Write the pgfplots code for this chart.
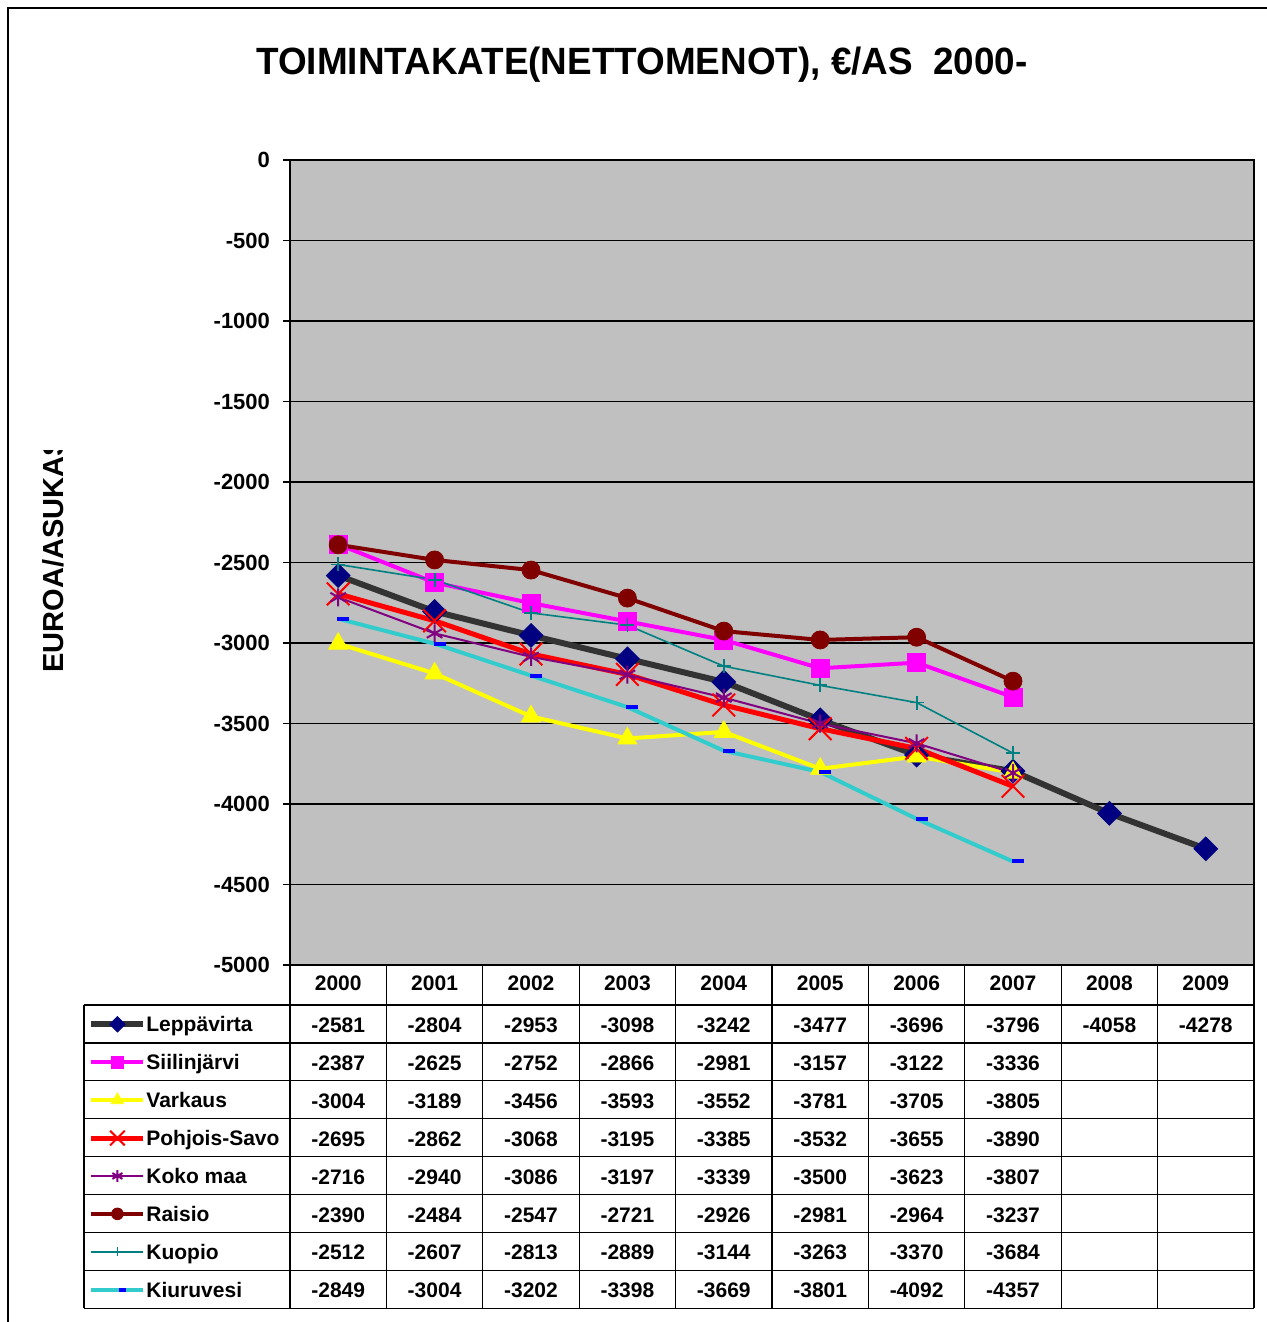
\documentclass[border=0pt]{standalone}
\usepackage{pgfplots}
\pgfplotsset{compat=1.18}
\usepackage{pgfplotstable}
\usepackage{fontspec}
\setmainfont{Liberation Sans}

\definecolor{cBg}{HTML}{C0C0C0}
\definecolor{cLepp}{HTML}{333333}
\definecolor{cNavy}{HTML}{000080}
\definecolor{cSiil}{HTML}{FF00FF}
\definecolor{cVark}{HTML}{FFFF00}
\definecolor{cPS}{HTML}{FF0000}
\definecolor{cKoko}{HTML}{800080}
\definecolor{cRais}{HTML}{800000}
\definecolor{cKuop}{HTML}{008080}
\definecolor{cKiur}{HTML}{33CCCC}
\definecolor{cBlue}{HTML}{0000FF}

\pgfplotstableread{
year Lepp Siil Vark PS Koko Raisio Kuopio Kiuru
2000 -2581 -2387 -3004 -2695 -2716 -2390 -2512 -2849
2001 -2804 -2625 -3189 -2862 -2940 -2484 -2607 -3004
2002 -2953 -2752 -3456 -3068 -3086 -2547 -2813 -3202
2003 -3098 -2866 -3593 -3195 -3197 -2721 -2889 -3398
2004 -3242 -2981 -3552 -3385 -3339 -2926 -3144 -3669
2005 -3477 -3157 -3781 -3532 -3500 -2981 -3263 -3801
2006 -3696 -3122 -3705 -3655 -3623 -2964 -3370 -4092
2007 -3796 -3336 -3805 -3890 -3807 -3237 -3684 -4357
2008 -4058 nan nan nan nan nan nan nan
2009 -4278 nan nan nan nan nan nan nan
}\datatable
\def\nanstr{nan}
\newcommand{\tabfont}{\bfseries\fontsize{10.5}{12}\selectfont}

\begin{document}
\begin{tikzpicture}
\begin{scope}[x=0.5pt,y=-0.5pt]
\useasboundingbox (0,0) rectangle (1266,1322);
\draw[line width=0.7pt] (8,1340) -- (8,8) -- (1280,8);
\node[font=\bfseries\fontsize{19}{22}\selectfont, xscale=0.97] at (642,65) {TOIMINTAKATE(NETTOMENOT), €/AS\ \ 2000-};
\begin{scope}
\clip (20,450) rectangle (120,700);
\node[rotate=90, anchor=base west, inner sep=0pt, font=\bfseries\fontsize{14.5}{17}\selectfont] at (63,673) {EUROA/ASUKAS};
\end{scope}
\end{scope}

\begin{axis}[
  at={(145pt,-482.5pt)}, anchor=south west,
  width=482pt, height=402.5pt, scale only axis,
  xmin=1999.5, xmax=2009.5, ymin=-5000, ymax=0,
  axis background/.style={fill=cBg},
  xtick=\empty,
  minor xtick={2000.5,2001.5,...,2008.5},
  xminorgrids=true,
  minor x grid style={black, line width=0.6pt},
  minor tick length=0pt,
  ytick={-5000,-4500,...,0},
  ytick pos=left,
  yticklabels={-5000,-4500,-4000,-3500,-3000,-2500,-2000,-1500,-1000,-500,0},
  ymajorgrids=true,
  major grid style={black, line width=0.6pt},
  tick align=outside, major tick length=3.5pt,
  tick style={black, line width=0.6pt},
  yticklabel style={font=\bfseries\fontsize{11}{13}\selectfont, xshift=-3pt},
  axis line style={black, line width=0.7pt},
  legend cell align=left,
  legend style={at={(-0.20954,-0.04969)}, anchor=north west, draw=none, fill=none,
    inner sep=0pt, row sep=0pt, column sep=0pt, font=\tabfont,
    nodes={inner xsep=0pt, inner ysep=0pt, text height=13.225pt, text depth=5.725pt}},
  legend image code/.code={\draw[mark repeat=2,mark phase=2,/tikz/every mark/.append style={scale=0.65}] plot coordinates {(0pt,0pt) (13pt,0pt) (26pt,0pt)};},
]
\addplot[color=cLepp, line width=3pt, mark=square*, mark size=4.2pt,
  mark options={fill=cNavy, draw=cNavy, rotate=45, line width=0.4pt}] table[x=year,y=Lepp]{\datatable};
\addplot[color=cSiil, line width=2pt, mark=square*, mark size=4.5pt,
  mark options={fill=cSiil, draw=cSiil, line width=0.4pt}] table[x=year,y=Siil]{\datatable};
\addplot[color=cVark, line width=2pt, mark=triangle*, mark size=5.5pt,
  mark options={fill=cVark, draw=cVark, line width=0.4pt}] table[x=year,y=Vark]{\datatable};
\addplot[color=cPS, line width=2.5pt, mark=x, mark size=8pt,
  mark options={draw=cPS, line width=1pt}] table[x=year,y=PS]{\datatable};
\addplot[color=cKoko, line width=1pt, mark=asterisk, mark size=4.5pt,
  mark options={draw=cKoko, line width=1pt}] table[x=year,y=Koko]{\datatable};
\addplot[color=cRais, line width=2pt, mark=*, mark size=4.5pt,
  mark options={fill=cRais, draw=cRais, line width=0.4pt}] table[x=year,y=Raisio]{\datatable};
\addplot[color=cKuop, line width=0.8pt, mark=+, mark size=3.5pt,
  mark options={draw=cKuop, line width=0.9pt}] table[x=year,y=Kuopio]{\datatable};
\addplot[color=cKiur, line width=2pt, mark=-, mark size=3pt,
  mark options={draw=cBlue, line width=2pt, xshift=2.5pt}] table[x=year,y=Kiuru]{\datatable};
\legend{Leppävirta, Siilinjärvi, Varkaus, Pohjois-Savo, Koko maa, Raisio, Kuopio, Kiuruvesi}
\end{axis}

\begin{scope}[x=0.5pt,y=-0.5pt]
\foreach \k in {0,...,10} \draw[line width=0.6pt] ({290+96.4*\k},965) -- ({290+96.4*\k},1308);
\foreach \j in {0,...,8} \draw[line width=0.6pt] (84,{1005+37.9*\j}) -- (1254,{1005+37.9*\j});
\draw[line width=0.6pt] (84,1005) -- (84,1308);
\foreach \yr [count=\k from 0] in {2000,2001,2002,2003,2004,2005,2006,2007,2008,2009}
  \node[anchor=base, font=\tabfont, inner sep=0pt] at ({338.2+96.4*\k},990.5) {\yr};
\foreach \col [count=\i from 0] in {Lepp,Siil,Vark,PS,Koko,Raisio,Kuopio,Kiuru}{
  \foreach \r in {0,...,9}{
    \pgfplotstablegetelem{\r}{\col}\of\datatable
    \ifx\pgfplotsretval\nanstr\else
      \node[anchor=base, font=\tabfont, inner sep=0pt] at ({338.2+96.4*\r},{1032.5+37.9*\i}) {\pgfplotsretval};
    \fi
  }
}
\end{scope}
\end{tikzpicture}
\end{document}
